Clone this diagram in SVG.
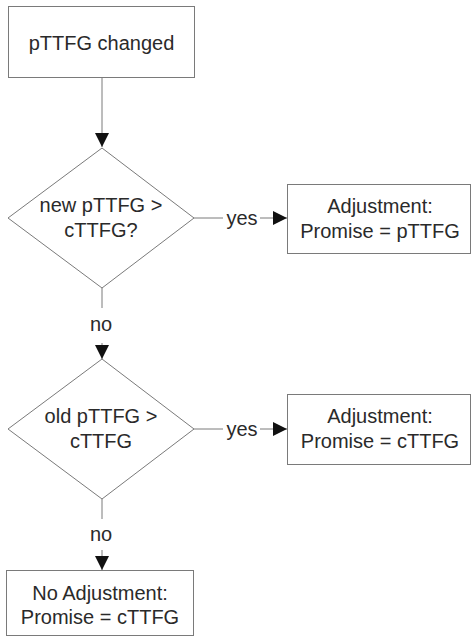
<svg xmlns="http://www.w3.org/2000/svg" width="473" height="639" viewBox="0 0 473 639">
  <style>
    .shape { fill: #ffffff; stroke: #7a7a7a; stroke-width: 1; }
    .wire { fill: none; stroke: #7a7a7a; stroke-width: 1; }
    .label { font-family: "Liberation Sans", Arial, sans-serif; font-size: 20px; fill: #2a2a2a; text-anchor: middle; }
  </style>
  <defs>
    <marker id="arrow" viewBox="0 0 14 14" refX="14" refY="7" markerWidth="14" markerHeight="14" markerUnits="userSpaceOnUse" orient="auto">
      <path d="M0,0 L14,7 L0,14 Z" fill="#111111"/>
    </marker>
  </defs>
  <rect width="473" height="639" fill="#ffffff"/>

  <g id="connectors">
    <line class="wire" x1="102" y1="77" x2="102" y2="147" marker-end="url(#arrow)"/>
    <line class="wire" x1="194" y1="218" x2="223" y2="218"/>
    <line class="wire" x1="260" y1="218" x2="287" y2="218" marker-end="url(#arrow)"/>
    <line class="wire" x1="102" y1="288" x2="102" y2="308"/>
    <line class="wire" x1="102" y1="343" x2="102" y2="359" marker-end="url(#arrow)"/>
    <line class="wire" x1="194" y1="429" x2="223" y2="429"/>
    <line class="wire" x1="260" y1="429" x2="287" y2="429" marker-end="url(#arrow)"/>
    <line class="wire" x1="102" y1="499" x2="102" y2="519"/>
    <line class="wire" x1="102" y1="550" x2="102" y2="570" marker-end="url(#arrow)"/>
    <text class="label" x="242" y="225">yes</text>
    <text class="label" x="101" y="331">no</text>
    <text class="label" x="242" y="436">yes</text>
    <text class="label" x="101" y="541">no</text>
  </g>

  <g id="start">
    <rect class="shape" x="8.5" y="6.5" width="186" height="71"/>
    <text class="label" x="101.5" y="50">pTTFG changed</text>
  </g>

  <g id="decision-new">
    <path class="shape" d="M102,148 L194,218 L102,288 L8,218 Z"/>
    <text class="label" x="101" y="212">new pTTFG &gt;</text>
    <text class="label" x="101" y="237">cTTFG?</text>
  </g>

  <g id="adjust-p">
    <rect class="shape" x="287.5" y="184.5" width="183" height="69"/>
    <text class="label" x="380" y="213">Adjustment:</text>
    <text class="label" x="380" y="238">Promise = pTTFG</text>
  </g>

  <g id="decision-old">
    <path class="shape" d="M102,359 L194,429 L102,499 L8,429 Z"/>
    <text class="label" x="101" y="423">old pTTFG &gt;</text>
    <text class="label" x="101" y="448">cTTFG</text>
  </g>

  <g id="adjust-c">
    <rect class="shape" x="287.5" y="394.5" width="183" height="70"/>
    <text class="label" x="380" y="423">Adjustment:</text>
    <text class="label" x="380" y="448">Promise = cTTFG</text>
  </g>

  <g id="no-adjust">
    <rect class="shape" x="6.5" y="570.5" width="187" height="65"/>
    <text class="label" x="100" y="600">No Adjustment:</text>
    <text class="label" x="100" y="624">Promise = cTTFG</text>
  </g>
</svg>
